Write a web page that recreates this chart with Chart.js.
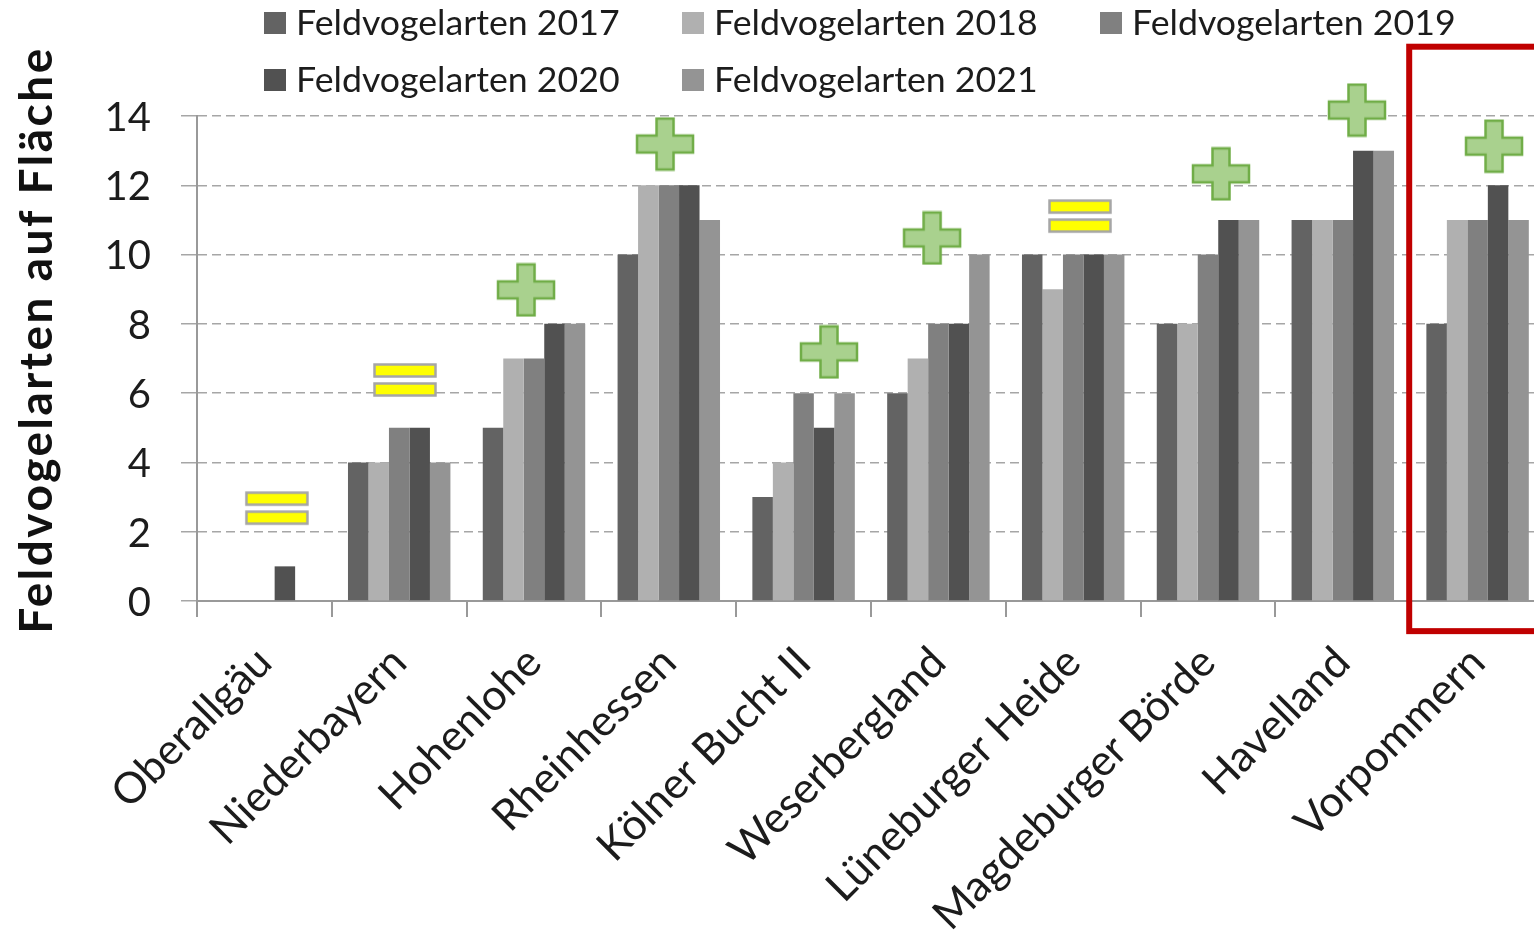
<!DOCTYPE html>
<html>
<head>
<meta charset="utf-8">
<title>Feldvogelarten</title>
<script src="https://cdn.jsdelivr.net/npm/chart.js@4/dist/chart.umd.min.js"></script>
<style>
  html, body { margin: 0; padding: 0; background: #fff; overflow: hidden; }
  canvas { display: block; }
</style>
</head>
<body>
<canvas id="chart" width="1560" height="940"></canvas>
<script>
const categories = ["Oberallgäu", "Niederbayern", "Hohenlohe", "Rheinhessen", "Kölner Bucht II",
  "Weserbergland", "Lüneburger Heide", "Magdeburger Börde", "Havelland", "Vorpommern"];
const seriesLabels = ["Feldvogelarten 2017", "Feldvogelarten 2018", "Feldvogelarten 2019",
  "Feldvogelarten 2020", "Feldvogelarten 2021"];
const values2017 = [0, 4, 5, 10, 3, 6, 10, 8, 11, 8];
const values2018 = [0, 4, 7, 12, 4, 7, 9, 8, 11, 11];
const values2019 = [0, 5, 7, 12, 6, 8, 10, 10, 11, 11];
const values2020 = [1, 5, 8, 12, 5, 8, 10, 11, 13, 12];
const values2021 = [0, 4, 8, 11, 6, 10, 10, 11, 13, 11];
const seriesColors = ["#636363", "#b0b0b0", "#808080", "#515151", "#949494"];

// trend symbol per region, in data units (x is the category index, fractions allowed)
const trendSigns = ["=", "=", "+", "+", "+", "+", "=", "+", "+", "+"];
const trendX = [0.093, 1.043, 1.941, 2.972, 4.188, 4.953, 6.05, 7.096, 8.105, 9.122];
const trendY = [2.68, 6.38, 8.98, 13.19, 7.19, 10.48, 11.11, 12.33, 14.17, 13.13];

const FONT = "Lato, 'Open Sans', sans-serif";
const TEXT = "#1c1c1c";

function plusImage() {
  const c = document.createElement("canvas");
  c.width = 60; c.height = 55;
  const g = c.getContext("2d");
  const w = 56, h = 51, a = 17, l = 2, t = 2;
  const xa = l + (w - a) / 2, ya = t + (h - a) / 2;
  g.beginPath();
  g.moveTo(xa, t); g.lineTo(xa + a, t); g.lineTo(xa + a, ya); g.lineTo(l + w, ya);
  g.lineTo(l + w, ya + a); g.lineTo(xa + a, ya + a); g.lineTo(xa + a, t + h); g.lineTo(xa, t + h);
  g.lineTo(xa, ya + a); g.lineTo(l, ya + a); g.lineTo(l, ya); g.lineTo(xa, ya);
  g.closePath();
  g.fillStyle = "#a9d18e";
  g.fill();
  g.lineWidth = 2.5;
  g.strokeStyle = "#70ad47";
  g.stroke();
  return c;
}

function equalsImage() {
  const c = document.createElement("canvas");
  c.width = 66; c.height = 36;
  const g = c.getContext("2d");
  g.fillStyle = "#ffff00";
  g.strokeStyle = "#a6a6a6";
  g.lineWidth = 2.5;
  [2.5, 21.5].forEach((y) => {
    g.fillRect(2.5, y, 61, 12);
    g.strokeRect(2.5, y, 61, 12);
  });
  return c;
}

const plusImg = plusImage();
const equalsImg = equalsImage();

const seriesValues = [values2017, values2018, values2019, values2020, values2021];

const datasets = seriesLabels.map((label, i) => ({
  type: "bar",
  label: label,
  data: seriesValues[i],
  backgroundColor: seriesColors[i],
  barPercentage: 1,
  categoryPercentage: 0.76,
  order: 2,
}));

// parsing is off so the fractional x survives on the category axis
datasets.push({
  type: "scatter",
  label: "Trend",
  data: trendX.map((x, i) => ({ x: x, y: trendY[i] })),
  parsing: false,
  clip: false,
  order: 1,
  pointRadius: 30, // keeps the Havelland symbol, it sits above the chart area
  pointStyle: (ctx) => (trendSigns[ctx.dataIndex] === "+" ? plusImg : equalsImg),
});

// legend grid, y axis title and the red frame round the last region
const extras = {
  id: "extras",
  afterDatasetsDraw(chart) {
    const ctx = chart.ctx;
    const { x, y } = chart.scales;

    ctx.save();
    ctx.strokeStyle = "#c00000";
    ctx.lineWidth = 6;
    ctx.strokeRect(x.getPixelForValue(8.5) - 1, y.getPixelForValue(16.0),
      300, y.getPixelForValue(-0.87) - y.getPixelForValue(16.0));
    ctx.restore();

    ctx.save();
    ctx.font = "35.7px " + FONT;
    ctx.textBaseline = "middle";
    ctx.textAlign = "left";
    seriesLabels.forEach((label, i) => {
      const col = i % 3;
      const row = Math.floor(i / 3);
      const left = 264 + col * 418;
      const yMid = 23 + row * 57;
      ctx.fillStyle = seriesColors[i];
      ctx.fillRect(left, yMid - 11, 22, 22);
      ctx.fillStyle = TEXT;
      ctx.fillText(label, left + 32, yMid);
    });
    ctx.restore();

    ctx.save();
    ctx.translate(37, 340);
    ctx.rotate(-Math.PI / 2);
    ctx.font = "bold 46px " + FONT;
    ctx.letterSpacing = "2.5px";
    ctx.textAlign = "center";
    ctx.textBaseline = "middle";
    ctx.fillStyle = "#111";
    ctx.fillText("Feldvogelarten auf Fläche", 0, 0);
    ctx.restore();
  },
};

new Chart(document.getElementById("chart").getContext("2d"), {
  type: "bar",
  data: { labels: categories, datasets: datasets },
  plugins: [extras],
  options: {
    responsive: false,
    animation: false,
    layout: { autoPadding: false, padding: { top: 116, right: 15, left: 0, bottom: 0 } },
    plugins: { legend: { display: false }, tooltip: { enabled: false } },
    scales: {
      x: {
        type: "category",
        offset: true,
        afterFit: (scale) => { scale.height = 339; },
        border: { color: "#999", width: 2 },
        grid: { drawOnChartArea: false, offset: true, tickLength: 16, color: "#999", lineWidth: 2 },
        ticks: {
          autoSkip: false,
          minRotation: 45,
          maxRotation: 45,
          padding: 20,
          color: TEXT,
          font: { family: FONT, size: 43 },
        },
      },
      y: {
        min: 0,
        max: 14,
        afterFit: (scale) => { scale.width = 197; },
        border: { color: "#999", width: 2, dash: [9, 5] },
        grid: {
          color: "#a6a6a6",
          lineWidth: 1.5,
          tickLength: 16,
        },
        ticks: {
          stepSize: 2,
          padding: 30,
          labelOffset: 2,
          color: TEXT,
          font: { family: FONT, size: 40 },
        },
      },
    },
  },
});
</script>
</body>
</html>
